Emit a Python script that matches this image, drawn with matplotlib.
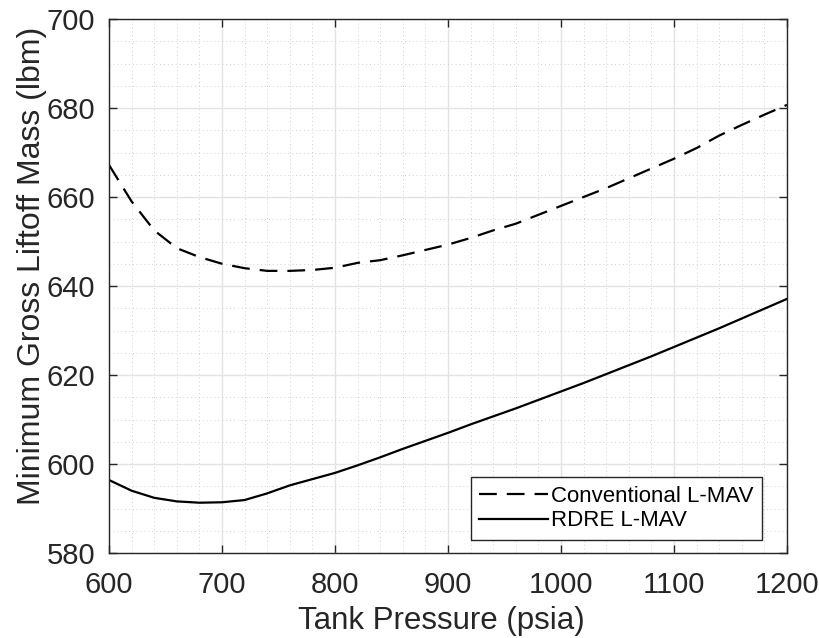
import matplotlib
matplotlib.use("Agg")
import matplotlib.pyplot as plt
from matplotlib.ticker import MultipleLocator

plt.rcParams['font.family'] = ['Liberation Sans', 'DejaVu Sans']

# tank pressure (psia)
pressure = [600, 620, 640, 660, 680, 700, 720, 740, 760, 780, 800, 820, 840, 860,
            880, 900, 920, 940, 960, 980, 1000, 1020, 1040, 1060, 1080, 1100,
            1120, 1140, 1160, 1180, 1200]

# minimum gross liftoff mass (lbm)
conventional = [667.2, 659.0, 652.5, 648.5, 646.5, 645.0, 644.0, 643.4, 643.4, 643.6,
                644.1, 645.2, 645.8, 646.9, 648.1, 649.3, 650.8, 652.5, 654.0, 656.0,
                658.0, 660.0, 662.0, 664.2, 666.4, 668.6, 671.0, 673.8, 676.2, 678.5,
                680.7]
rdre = [596.4, 594.0, 592.4, 591.6, 591.3, 591.4, 591.9, 593.4, 595.2, 596.6,
        598.0, 599.7, 601.5, 603.4, 605.2, 607.0, 608.9, 610.7, 612.5, 614.4,
        616.3, 618.2, 620.2, 622.2, 624.2, 626.3, 628.4, 630.5, 632.7, 634.9,
        637.1]

dark = '#262626'

fig = plt.figure(figsize=(8.2, 6.38), dpi=100)
ax = fig.add_axes([109 / 820, 1 - 553 / 638, 678 / 820, 534 / 638])

ax.plot(pressure, conventional, color='black', lw=1.6, linestyle=(0, (8, 4.5)),
        label='Conventional L-MAV')
ax.plot(pressure, rdre, color='black', lw=1.6, label='RDRE L-MAV')

ax.set_xlim(600, 1200)
ax.set_ylim(580, 700)
ax.xaxis.set_major_locator(MultipleLocator(100))
ax.xaxis.set_minor_locator(MultipleLocator(20))
ax.yaxis.set_major_locator(MultipleLocator(20))
ax.yaxis.set_minor_locator(MultipleLocator(5))

ax.grid(which='major', color='#e3e3e3', lw=1.0, linestyle='-')
ax.grid(which='minor', color='#d0d0d0', lw=0.7, linestyle=(0, (1, 3)))
ax.set_axisbelow(True)

ax.tick_params(which='major', direction='in', length=6, width=1.0, color=dark,
               top=True, right=True, labelsize=21, labelcolor=dark)
ax.tick_params(axis='x', which='major', pad=13)
ax.tick_params(axis='y', which='major', pad=10)
ax.tick_params(which='minor', length=0)
for sp in ax.spines.values():
    sp.set_color(dark)
    sp.set_linewidth(1.0)

ax.set_xlabel('Tank Pressure (psia)', fontsize=22.5, color=dark)
ax.set_ylabel('Minimum Gross Liftoff Mass (lbm)', fontsize=23, color=dark)
ax.xaxis.set_label_coords(0.49, -0.1)
ax.yaxis.set_label_coords(-0.092, 0.537)

leg = ax.legend(loc='lower right', bbox_to_anchor=(0.963, 0.024), fontsize=16,
                fancybox=False, framealpha=1, edgecolor=dark, handlelength=3.1,
                handletextpad=0.1, labelspacing=0.14, borderpad=0.4,
                borderaxespad=0)
leg.get_frame().set_linewidth(1.0)

fig.savefig('out.png', dpi=100)
